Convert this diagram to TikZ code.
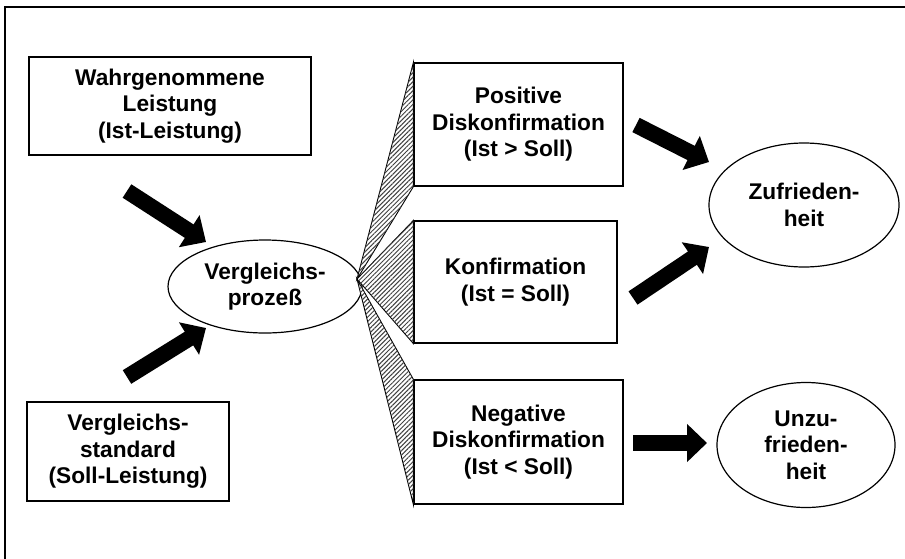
\documentclass[tikz,border=0pt]{standalone}
\usepackage{fontspec}
\setmainfont{Liberation Sans}
\usetikzlibrary{arrows.meta,patterns.meta,shapes.geometric}
\begin{document}
\begin{tikzpicture}[x=1pt,y=-1pt,
  txt/.style={font=\fontsize{22.7}{26.5}\selectfont\bfseries, align=center, inner sep=0pt},
  boxnode/.style={txt, draw, line width=1.2pt},
  ovalnode/.style={txt, draw, ellipse, line width=1.2pt, fill=white},
  fan/.style={draw, line width=0.9pt, line join=miter, fill=white,
    postaction={pattern={Lines[angle=45,distance=3.2pt,line width=1pt]}, pattern color=black!75}},
  block/.style={line width=16pt, line cap=butt, -{Triangle[length=20pt,width=37pt]}}]
\useasboundingbox (0,0) rectangle (905,558);
\draw[line width=1.4pt] (915,7) -- (5,7) -- (5,570);

\node[boxnode, minimum width=282pt, minimum height=98pt] (b1) at (170,106) {Wahrgenommene\\Leistung\\(Ist-Leistung)};
\node[boxnode, minimum width=202pt, minimum height=99pt] (b2) at (128,451.5) {Vergleichs-\\standard\\(Soll-Leistung)};
\node[ovalnode, minimum width=194pt, minimum height=93pt] (vp) at (265,286.5) {Vergleichs-\\prozeß};

\node[boxnode, minimum width=209pt, minimum height=123pt] (P) at (518.5,124.5) {Positive\\Diskonfirmation\\(Ist > Soll)};
\node[boxnode, minimum width=203pt, minimum height=122pt] (K) at (515.5,282) {Konfirmation\\(Ist = Soll)};
\node[boxnode, minimum width=209pt, minimum height=124pt] (N) at (518.5,442) {Negative\\Diskonfirmation\\(Ist < Soll)};

\node[ovalnode, minimum width=190pt, minimum height=124pt] (Z) at (804,205) {Zufrieden-\\heit};
\node[ovalnode, minimum width=178pt, minimum height=125pt] (U) at (806,445) {Unzu-\\frieden-\\heit};

\coordinate (apex) at (357,279);
\draw[fan] (apex) -- (P.north west) -- (P.south west) -- cycle;
\draw[fan] (apex) -- (N.north west) -- (N.south west) -- cycle;
\draw[fan] (apex) -- (K.north west) -- (K.south west) -- cycle;

\coordinate (a1s) at (127,191); \coordinate (a1e) at (206,242);
\coordinate (a2s) at (127,377); \coordinate (a2e) at (206,328);
\coordinate (a3s) at (636,125); \coordinate (a3e) at (709,162);
\coordinate (a4s) at (633,298); \coordinate (a4e) at (709,247);
\coordinate (a5s) at (633,443); \coordinate (a5e) at (707,443);
\draw[block] (a1s) -- (a1e);
\draw[block] (a2s) -- (a2e);
\draw[block] (a3s) -- (a3e);
\draw[block] (a4s) -- (a4e);
\draw[block] (a5s) -- (a5e);
\end{tikzpicture}
\end{document}
